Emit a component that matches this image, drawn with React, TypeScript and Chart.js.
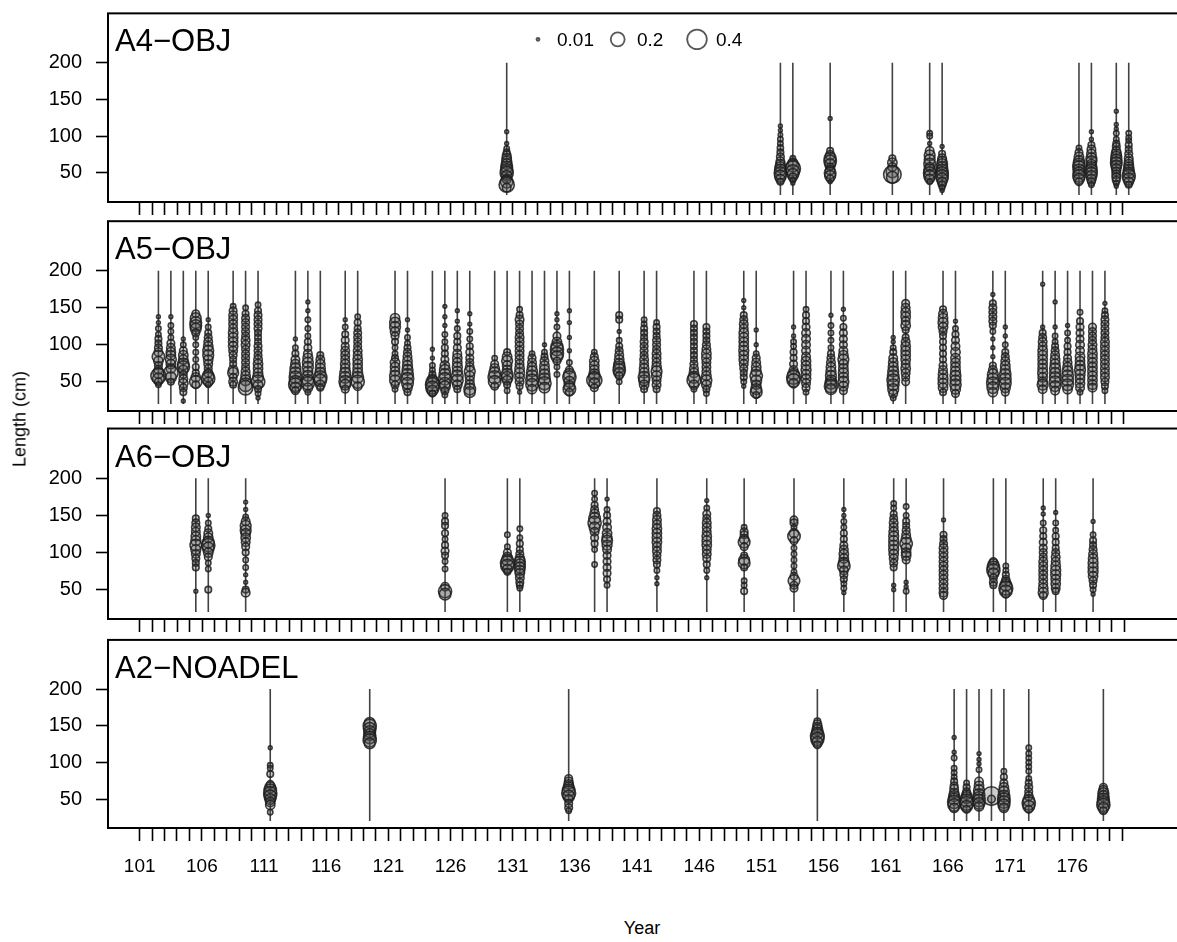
import React, { useEffect, useRef } from 'react';
import { Chart, registerables } from 'chart.js';
Chart.register(...registerables);

const FONT = '"Liberation Sans", Arial, Helvetica, sans-serif';

// ---- axis definitions ----
const FIRST_TICK_YEAR = 101;
const LAST_TICK_YEAR = 180;
const LABELED_YEARS = [101, 106, 111, 116, 121, 126, 131, 136, 141, 146, 151, 156, 161, 166, 171, 176];
const Y_TICKS = [50, 100, 150, 200];
const LINE_LOW = 20;
const LINE_HIGH = 200;
const LEGEND_PROPS = [0.01, 0.2, 0.4];
const LEGEND_LABELS = ['0.01', '0.2', '0.4'];

// ---- data: years and [length, proportion] compositions ----
const a4Years = [130, 152, 153, 156, 161, 164, 165, 176, 177, 179, 180];
const a4Comps = [
  [[106, .015], [90, .015], [83, .03], [78, .045], [74, .075], [70, .09], [66, .1], [62, .12], [58, .14], [54, .16], [50, .18], [46, .12], [42, .09], [38, .16], [34, .24], [30, .075]],
  [[114, .015], [108, .015], [102, .02], [96, .03], [90, .03], [84, .04], [78, .045], [72, .06], [66, .075], [62, .09], [58, .12], [54, .14], [50, .16], [46, .14], [42, .09], [38, .045]],
  [[70, .03], [64, .09], [60, .16], [56, .24], [52, .19], [48, .14], [44, .075], [40, .03], [36, .015]],
  [[124, .015], [80, .045], [74, .09], [70, .14], [66, .16], [62, .12], [58, .06], [54, .09], [50, .14], [46, .12], [42, .06], [38, .015]],
  [[70, .045], [64, .09], [58, .075], [52, .16], [48, .32], [44, .14]],
  [[104, .03], [100, .03], [90, .015], [80, .075], [74, .12], [68, .12], [62, .14], [58, .09], [54, .14], [50, .16], [46, .14], [42, .09], [38, .03]],
  [[86, .015], [76, .045], [70, .075], [66, .09], [62, .12], [58, .12], [54, .14], [50, .16], [46, .16], [42, .14], [38, .09], [34, .06], [30, .03], [26, .015]],
  [[84, .03], [78, .06], [72, .09], [66, .12], [62, .14], [58, .16], [54, .14], [50, .14], [46, .16], [42, .12], [38, .06]],
  [[106, .015], [96, .015], [88, .045], [82, .075], [76, .09], [70, .12], [66, .12], [62, .09], [58, .12], [54, .14], [50, .14], [46, .12], [42, .09], [38, .06], [34, .03]],
  [[134, .015], [116, .015], [110, .015], [104, .03], [96, .03], [90, .045], [86, .06], [80, .075], [76, .1], [72, .12], [68, .13], [64, .14], [60, .12], [56, .09], [52, .075], [48, .075], [44, .075], [40, .06], [36, .03], [32, .015]],
  [[104, .03], [98, .03], [94, .03], [88, .045], [82, .045], [76, .06], [70, .075], [66, .075], [62, .09], [58, .1], [54, .12], [50, .14], [46, .18], [42, .14], [38, .09], [34, .045]],
];

const a5Years = [102, 103, 104, 105, 106, 108, 109, 110, 113, 114, 115, 117, 118, 121, 122, 124, 125, 126, 127, 129, 130, 131, 132, 133, 134, 135, 137, 139, 141, 142, 145, 146, 149, 150, 153, 154, 156, 157, 161, 162, 165, 166, 169, 170, 173, 174, 175, 176, 177, 178];
const a5Comps = [
  [[138, .015], [130, .015], [122, .03], [114, .03], [108, .045], [102, .045], [96, .06], [90, .075], [84, .16], [78, .09], [72, .06], [66, .075], [62, .12], [58, .24], [54, .14], [50, .06], [46, .03]],
  [[138, .015], [126, .03], [118, .03], [110, .03], [102, .06], [96, .075], [90, .09], [86, .09], [80, .12], [74, .09], [68, .09], [62, .22], [56, .12], [50, .045]],
  [[108, .015], [100, .03], [92, .06], [86, .09], [80, .09], [74, .14], [70, .16], [66, .09], [60, .06], [54, .075], [48, .09], [42, .06], [36, .045], [24, .015]],
  [[142, .06], [136, .12], [130, .14], [126, .14], [122, .12], [116, .06], [110, .03], [100, .03], [90, .03], [80, .03], [70, .045], [62, .045], [56, .09], [50, .16], [46, .06]],
  [[134, .015], [124, .03], [116, .045], [110, .06], [104, .075], [98, .09], [92, .12], [86, .12], [80, .09], [74, .075], [68, .06], [62, .075], [58, .14], [54, .18], [50, .09], [46, .03]],
  [[152, .03], [146, .06], [140, .075], [134, .075], [128, .075], [122, .075], [116, .09], [110, .09], [104, .09], [98, .09], [92, .075], [86, .06], [80, .045], [74, .045], [66, .09], [62, .12], [56, .06], [50, .075], [46, .045]],
  [[150, .03], [142, .045], [136, .06], [130, .06], [124, .06], [118, .06], [112, .06], [106, .075], [100, .075], [94, .06], [88, .06], [82, .06], [76, .06], [70, .06], [64, .075], [58, .09], [52, .12], [46, .19], [42, .22]],
  [[154, .03], [146, .045], [140, .06], [134, .06], [128, .06], [122, .06], [116, .045], [110, .045], [104, .045], [98, .06], [92, .06], [86, .06], [80, .075], [74, .09], [68, .09], [62, .09], [56, .12], [50, .19], [46, .09], [40, .045], [34, .03], [28, .015]],
  [[108, .015], [96, .03], [88, .045], [80, .075], [74, .09], [68, .12], [62, .14], [56, .16], [50, .16], [46, .19], [42, .12], [38, .06]],
  [[158, .015], [146, .015], [134, .03], [122, .03], [112, .03], [104, .045], [96, .06], [88, .075], [82, .1], [76, .12], [70, .12], [64, .1], [58, .12], [52, .14], [48, .18], [42, .09], [36, .03]],
  [[86, .045], [80, .075], [74, .09], [68, .1], [62, .12], [56, .18], [52, .16], [46, .09], [42, .045]],
  [[134, .015], [124, .03], [114, .045], [106, .06], [98, .06], [92, .075], [86, .075], [80, .075], [74, .09], [68, .09], [62, .12], [56, .14], [50, .16], [46, .12], [40, .06]],
  [[138, .03], [130, .045], [122, .045], [116, .06], [110, .06], [104, .06], [98, .06], [92, .075], [86, .075], [80, .09], [74, .09], [68, .09], [62, .1], [56, .14], [50, .18], [44, .075]],
  [[136, .09], [130, .12], [124, .12], [118, .09], [112, .06], [104, .045], [96, .03], [88, .03], [82, .045], [76, .09], [70, .09], [64, .09], [58, .12], [52, .12], [46, .06], [40, .03]],
  [[134, .015], [120, .015], [110, .03], [102, .03], [96, .045], [90, .06], [84, .075], [78, .09], [72, .1], [66, .12], [60, .14], [54, .16], [48, .14], [42, .09], [36, .045]],
  [[94, .015], [82, .015], [72, .03], [66, .03], [60, .045], [54, .09], [50, .16], [46, .2], [42, .18], [38, .12], [34, .045]],
  [[152, .015], [138, .015], [126, .015], [114, .03], [104, .03], [96, .045], [88, .045], [80, .06], [72, .09], [66, .12], [60, .14], [54, .16], [48, .14], [44, .12], [38, .06], [32, .03]],
  [[146, .015], [132, .015], [122, .03], [112, .045], [104, .045], [96, .06], [88, .075], [82, .09], [76, .09], [70, .1], [64, .1], [58, .14], [52, .14], [46, .09], [40, .045]],
  [[142, .015], [128, .015], [118, .03], [108, .03], [98, .045], [90, .06], [82, .06], [76, .06], [70, .075], [64, .12], [58, .09], [52, .075], [46, .09], [40, .14], [36, .12]],
  [[82, .03], [74, .06], [68, .09], [62, .14], [56, .18], [50, .16], [44, .06]],
  [[90, .045], [84, .09], [78, .12], [72, .09], [66, .09], [60, .14], [56, .14], [52, .09], [46, .045], [38, .03]],
  [[148, .03], [140, .045], [134, .075], [128, .06], [122, .06], [116, .06], [110, .075], [104, .075], [98, .075], [92, .075], [86, .075], [80, .075], [74, .075], [68, .09], [62, .1], [56, .09], [50, .075], [44, .045], [36, .015]],
  [[88, .03], [82, .06], [76, .075], [70, .09], [64, .12], [58, .14], [52, .16], [46, .16], [40, .09]],
  [[100, .015], [90, .03], [84, .045], [78, .075], [72, .09], [66, .1], [60, .12], [54, .14], [48, .18], [42, .12]],
  [[142, .015], [134, .015], [124, .03], [112, .06], [104, .09], [98, .14], [94, .18], [88, .18], [84, .14], [78, .06], [70, .03], [60, .03]],
  [[146, .015], [130, .015], [110, .015], [92, .015], [76, .03], [66, .06], [60, .14], [56, .18], [50, .12], [44, .12], [40, .16], [36, .06]],
  [[90, .03], [84, .06], [78, .09], [72, .09], [66, .09], [60, .12], [56, .14], [52, .24], [48, .12], [42, .06]],
  [[140, .045], [134, .045], [118, .015], [106, .03], [98, .045], [92, .06], [86, .075], [80, .09], [74, .12], [70, .14], [66, .16], [62, .12], [58, .06], [50, .03]],
  [[134, .03], [128, .03], [122, .045], [116, .045], [110, .045], [104, .06], [98, .06], [92, .06], [86, .06], [80, .075], [74, .075], [68, .09], [62, .1], [56, .14], [52, .12], [46, .09], [40, .045]],
  [[130, .03], [124, .045], [118, .045], [112, .045], [106, .06], [100, .06], [94, .06], [88, .075], [82, .075], [76, .075], [70, .09], [64, .12], [58, .1], [52, .075], [46, .075], [40, .045]],
  [[128, .045], [122, .045], [116, .045], [110, .045], [104, .045], [98, .045], [92, .045], [86, .045], [80, .045], [74, .06], [68, .075], [62, .09], [56, .14], [52, .2], [46, .09], [40, .03]],
  [[124, .045], [118, .045], [112, .045], [106, .045], [100, .06], [94, .075], [88, .09], [82, .09], [76, .075], [70, .075], [64, .075], [58, .09], [52, .12], [46, .09], [40, .045], [34, .03]],
  [[160, .015], [150, .015], [140, .045], [134, .06], [128, .075], [122, .075], [116, .09], [110, .09], [104, .09], [98, .09], [92, .1], [86, .09], [80, .09], [74, .075], [68, .06], [62, .045], [56, .045], [50, .03], [44, .015]],
  [[120, .015], [100, .015], [88, .03], [82, .06], [76, .075], [70, .09], [64, .1], [58, .16], [52, .12], [46, .09], [40, .12], [36, .14], [32, .045]],
  [[124, .015], [112, .015], [104, .03], [98, .03], [90, .045], [82, .045], [74, .06], [66, .075], [60, .14], [56, .2], [52, .18], [48, .09]],
  [[148, .03], [140, .045], [132, .045], [124, .06], [116, .075], [108, .075], [100, .075], [92, .075], [84, .075], [78, .09], [72, .09], [66, .1], [60, .09], [54, .09], [48, .075], [42, .06], [36, .03]],
  [[140, .015], [126, .03], [116, .03], [106, .03], [96, .03], [88, .045], [82, .06], [76, .075], [70, .09], [64, .1], [58, .12], [52, .12], [48, .14], [44, .18], [40, .12]],
  [[148, .015], [136, .03], [124, .045], [116, .06], [108, .06], [100, .06], [92, .075], [86, .09], [80, .12], [74, .09], [68, .09], [62, .1], [56, .1], [50, .12], [44, .09], [38, .06]],
  [[110, .015], [104, .015], [96, .03], [90, .045], [82, .075], [76, .09], [70, .1], [64, .12], [58, .14], [52, .16], [46, .14], [40, .12], [34, .075], [28, .03]],
  [[156, .06], [150, .075], [144, .09], [138, .09], [132, .075], [126, .09], [120, .045], [110, .045], [104, .075], [98, .09], [92, .09], [86, .09], [80, .09], [74, .075], [68, .09], [62, .075], [56, .06], [50, .06]],
  [[148, .045], [142, .075], [136, .09], [130, .1], [124, .09], [118, .06], [112, .045], [104, .045], [96, .045], [88, .045], [80, .045], [72, .06], [66, .075], [60, .09], [54, .1], [48, .1], [42, .09], [36, .045]],
  [[132, .015], [122, .03], [114, .045], [106, .06], [98, .075], [90, .09], [82, .09], [76, .09], [70, .09], [64, .1], [58, .12], [52, .12], [46, .13], [40, .1], [34, .06]],
  [[168, .015], [156, .045], [150, .06], [144, .06], [138, .06], [132, .06], [126, .045], [118, .03], [108, .015], [96, .015], [84, .015], [72, .045], [66, .075], [60, .12], [54, .14], [48, .16], [42, .14], [36, .09]],
  [[124, .015], [112, .015], [100, .03], [90, .045], [84, .06], [78, .075], [72, .09], [66, .1], [60, .13], [54, .14], [48, .14], [42, .1], [36, .06]],
  [[182, .015], [124, .015], [116, .045], [110, .06], [104, .075], [98, .075], [92, .09], [86, .09], [80, .09], [74, .09], [68, .09], [62, .1], [56, .09], [50, .09], [46, .12], [40, .075]],
  [[158, .015], [124, .015], [112, .03], [104, .03], [98, .045], [92, .06], [86, .075], [80, .09], [74, .1], [68, .12], [62, .12], [56, .13], [50, .14], [44, .12], [38, .075]],
  [[126, .015], [116, .03], [106, .03], [98, .045], [90, .045], [82, .06], [76, .075], [70, .09], [64, .12], [58, .14], [52, .14], [46, .14], [40, .09]],
  [[144, .03], [132, .045], [124, .06], [116, .06], [108, .06], [100, .075], [92, .075], [84, .09], [78, .09], [72, .1], [66, .12], [60, .1], [54, .09], [48, .09], [42, .075], [36, .03]],
  [[124, .06], [118, .06], [112, .06], [106, .06], [100, .075], [94, .075], [88, .09], [82, .09], [76, .09], [70, .09], [64, .09], [58, .09], [52, .09], [46, .09], [42, .075]],
  [[156, .015], [146, .03], [140, .045], [134, .06], [128, .06], [122, .06], [116, .06], [110, .06], [104, .075], [98, .075], [92, .075], [86, .075], [80, .075], [74, .075], [68, .075], [62, .075], [56, .075], [50, .06], [44, .045], [38, .03]],
];

const a6Years = [105, 106, 109, 125, 130, 131, 137, 138, 142, 146, 149, 153, 157, 161, 162, 165, 169, 170, 173, 174, 177];
const a6Comps = [
  [[146, .045], [140, .06], [134, .075], [128, .075], [122, .09], [116, .1], [110, .14], [104, .1], [98, .075], [92, .06], [86, .045], [80, .045], [48, .015]],
  [[150, .015], [140, .03], [132, .045], [126, .075], [120, .09], [114, .14], [110, .18], [106, .14], [100, .09], [94, .06], [86, .03], [78, .03], [50, .045]],
  [[168, .015], [158, .015], [148, .03], [142, .075], [136, .12], [130, .12], [126, .09], [120, .09], [114, .075], [108, .06], [100, .045], [90, .03], [80, .03], [70, .015], [60, .015], [50, .045], [46, .075]],
  [[150, .03], [142, .045], [136, .045], [126, .045], [118, .03], [110, .045], [102, .06], [96, .045], [88, .03], [78, .03], [54, .075], [48, .18], [44, .14]],
  [[124, .03], [108, .03], [100, .06], [94, .09], [90, .14], [86, .2], [82, .18], [78, .09], [74, .045]],
  [[132, .03], [120, .03], [112, .045], [104, .045], [98, .06], [92, .09], [88, .12], [84, .12], [80, .12], [76, .1], [72, .09], [66, .075], [60, .06], [56, .045], [52, .03]],
  [[180, .03], [172, .03], [164, .045], [158, .06], [152, .09], [146, .14], [140, .18], [134, .12], [128, .075], [120, .06], [112, .045], [104, .03], [84, .03]],
  [[172, .015], [158, .03], [150, .045], [142, .06], [134, .075], [126, .09], [120, .1], [116, .12], [110, .1], [104, .075], [96, .06], [88, .06], [80, .06], [72, .06], [64, .045], [56, .03]],
  [[156, .045], [150, .06], [144, .075], [138, .075], [132, .09], [126, .09], [120, .09], [114, .09], [108, .075], [102, .075], [96, .06], [90, .06], [84, .045], [76, .03], [66, .015], [58, .015]],
  [[170, .015], [160, .03], [152, .06], [146, .06], [140, .075], [134, .075], [128, .075], [122, .09], [116, .09], [110, .09], [104, .075], [98, .075], [92, .06], [84, .045], [76, .03], [66, .015]],
  [[134, .03], [128, .06], [124, .06], [118, .09], [114, .14], [108, .06], [96, .045], [90, .12], [86, .14], [80, .045], [62, .03], [56, .03], [48, .045]],
  [[144, .06], [140, .06], [134, .03], [126, .09], [122, .16], [116, .06], [106, .03], [98, .03], [90, .03], [82, .03], [74, .03], [68, .06], [62, .14], [56, .06], [52, .06]],
  [[158, .015], [150, .015], [142, .03], [134, .03], [126, .045], [118, .045], [110, .06], [104, .075], [98, .09], [92, .09], [86, .12], [82, .16], [76, .075], [70, .06], [64, .045], [58, .03], [52, .03], [46, .015]],
  [[166, .03], [160, .03], [152, .045], [146, .06], [140, .075], [134, .075], [128, .09], [122, .1], [116, .1], [110, .1], [104, .1], [98, .09], [92, .075], [86, .06], [80, .045], [56, .015], [50, .015]],
  [[162, .03], [150, .03], [142, .045], [136, .045], [130, .06], [124, .075], [118, .1], [112, .16], [106, .1], [100, .09], [96, .09], [90, .06], [60, .015], [54, .015], [48, .03]],
  [[144, .015], [124, .045], [118, .045], [112, .06], [106, .075], [100, .075], [94, .075], [88, .075], [82, .075], [76, .075], [70, .075], [64, .075], [58, .075], [52, .075], [46, .075], [42, .06]],
  [[88, .06], [84, .12], [80, .16], [76, .18], [72, .12], [66, .06], [60, .06], [56, .045]],
  [[82, .03], [76, .03], [70, .045], [64, .06], [60, .09], [56, .14], [52, .2], [48, .16], [44, .06]],
  [[160, .015], [152, .015], [140, .03], [130, .045], [122, .045], [114, .06], [106, .06], [100, .06], [94, .06], [88, .075], [82, .075], [76, .075], [70, .075], [64, .075], [58, .075], [52, .09], [46, .1], [42, .06]],
  [[154, .015], [140, .03], [130, .03], [122, .045], [114, .045], [106, .045], [100, .06], [94, .075], [88, .075], [82, .09], [76, .1], [70, .1], [64, .09], [58, .09], [52, .075], [48, .045]],
  [[142, .015], [124, .03], [116, .045], [110, .045], [104, .06], [98, .075], [92, .09], [86, .1], [80, .1], [74, .1], [68, .09], [62, .06], [56, .045], [50, .03], [44, .015]],
];

const a2Years = [111, 119, 135, 155, 166, 167, 168, 169, 170, 172, 178];
const a2Comps = [
  [[120, .015], [96, .03], [92, .03], [84, .045], [70, .06], [66, .12], [62, .16], [58, .18], [54, .16], [50, .12], [46, .09], [42, .09], [32, .03]],
  [[154, .12], [150, .18], [146, .16], [142, .14], [138, .14], [134, .16], [130, .18], [126, .12]],
  [[78, .06], [74, .075], [70, .09], [66, .12], [62, .16], [58, .2], [54, .14], [50, .075], [44, .06], [38, .06], [34, .03]],
  [[156, .045], [152, .075], [148, .09], [144, .12], [140, .14], [136, .2], [132, .18], [128, .12], [124, .06]],
  [[134, .015], [114, .015], [106, .03], [92, .03], [86, .03], [80, .03], [74, .045], [68, .06], [64, .075], [58, .09], [54, .12], [50, .14], [46, .18], [42, .16], [38, .09]],
  [[72, .03], [66, .045], [60, .06], [56, .09], [52, .14], [48, .18], [44, .2], [40, .14], [36, .06]],
  [[112, .015], [104, .015], [98, .015], [90, .03], [74, .075], [68, .09], [62, .12], [56, .14], [52, .14], [48, .16], [44, .14], [40, .09]],
  [[54, .36], [50, .06]],
  [[88, .03], [80, .045], [72, .06], [66, .09], [60, .12], [54, .14], [50, .16], [46, .16], [42, .14], [38, .09]],
  [[120, .03], [112, .03], [106, .03], [100, .03], [94, .03], [88, .03], [78, .03], [72, .045], [66, .06], [60, .06], [54, .075], [48, .14], [44, .18], [40, .14], [36, .06]],
  [[66, .06], [62, .09], [58, .12], [54, .12], [50, .14], [46, .16], [42, .18], [38, .12], [34, .06]],
];

const PANELS = [
  { name: 'A4\u2212OBJ', years: a4Years, comps: a4Comps },
  { name: 'A5\u2212OBJ', years: a5Years, comps: a5Comps },
  { name: 'A6\u2212OBJ', years: a6Years, comps: a6Comps },
  { name: 'A2\u2212NOADEL', years: a2Years, comps: a2Comps },
];

// ---- layout ----
const CANVAS_W = 1200;
const PANEL_TOPS = [7, 216, 424, 633];
const PANEL_H = 195;
const PAD_TOP = 4;
const X_AXIS_H = [14, 14, 14, 70];
const PX_PER_YEAR = 12.56;
const FIRST_TICK_PX = 140;
const CHART_LEFT = 108;
const Y_MIN = 10.5;
const Y_MAX = 267.1;

const BUBBLE_BORDER = 'rgba(30,30,30,0.85)';
const BUBBLE_FILL = 'rgba(80,80,80,0.28)';
const LINE_COLOR = 'rgba(45,45,45,0.9)';

const radiusOf = (p: number) => 15.5 * Math.sqrt(p);

const firstTickValue = FIRST_TICK_YEAR - 0.5;
const X_MIN = firstTickValue - (FIRST_TICK_PX - CHART_LEFT) / PX_PER_YEAR;
const X_MAX = firstTickValue + (CANVAS_W - FIRST_TICK_PX) / PX_PER_YEAR;

function Panel({ idx }: { idx: number }) {
  const ref = useRef<HTMLCanvasElement>(null);
  const h = PAD_TOP + PANEL_H + X_AXIS_H[idx];
  useEffect(() => {
    const panel = PANELS[idx];
    const isLast = idx === PANELS.length - 1;
    const lineData: any[] = [];
    panel.years.forEach((yr) => {
      lineData.push({ x: yr, y: LINE_LOW }, { x: yr, y: LINE_HIGH }, { x: yr, y: null });
    });
    const bubbleData: any[] = [];
    panel.years.forEach((yr, i) => {
      panel.comps[i].forEach(([len, p]) => bubbleData.push({ x: yr, y: len, r: radiusOf(p) }));
    });
    const tickValues: number[] = [];
    for (let y = FIRST_TICK_YEAR; y <= LAST_TICK_YEAR; y++) tickValues.push(y - 0.5);

    const framePlugin = {
      id: 'frame' + idx,
      afterDraw(chart: any) {
        const { ctx, chartArea } = chart;
        const { left, top, right, bottom } = chartArea;
        ctx.save();
        ctx.strokeStyle = '#000';
        ctx.lineWidth = 2;
        ctx.strokeRect(left, top, right - left, bottom - top);
        ctx.fillStyle = '#000';
        ctx.font = `31px ${FONT}`;
        ctx.textBaseline = 'alphabetic';
        ctx.textAlign = 'left';
        ctx.fillText(panel.name, left + 7, top + 38);
        if (idx === 0) {
          const cy = top + 26;
          const circleX = [538, 617.7, 697];
          const textX = [557, 637, 716];
          LEGEND_PROPS.forEach((p, k) => {
            ctx.beginPath();
            ctx.arc(circleX[k], cy, radiusOf(p), 0, Math.PI * 2);
            ctx.fillStyle = k === 0 ? 'rgba(80,80,80,0.6)' : '#fff';
            ctx.fill();
            ctx.strokeStyle = 'rgba(70,70,70,0.9)';
            ctx.lineWidth = 1.8;
            ctx.stroke();
            ctx.fillStyle = '#000';
            ctx.font = `19px ${FONT}`;
            ctx.textBaseline = 'middle';
            ctx.fillText(LEGEND_LABELS[k], textX[k], cy + 1);
          });
        }
        ctx.restore();
      },
    };

    const chart = new Chart(ref.current as HTMLCanvasElement, {
      type: 'bubble',
      data: {
        datasets: [
          {
            type: 'line',
            data: lineData,
            borderColor: LINE_COLOR,
            borderWidth: 1.6,
            pointRadius: 0,
            spanGaps: false,
            fill: false,
            order: 2,
          } as any,
          {
            type: 'bubble',
            data: bubbleData,
            borderColor: BUBBLE_BORDER,
            backgroundColor: BUBBLE_FILL,
            borderWidth: 1.6,
            order: 1,
          } as any,
        ],
      },
      options: {
        responsive: false,
        animation: false,
        events: [],
        layout: { padding: { top: PAD_TOP, left: 0, right: 0, bottom: 0 } },
        plugins: { legend: { display: false }, tooltip: { enabled: false } },
        scales: {
          x: {
            type: 'linear',
            position: 'bottom',
            min: X_MIN,
            max: X_MAX,
            afterBuildTicks: (s: any) => {
              s.ticks = tickValues.map((v) => ({ value: v }));
            },
            afterFit: (s: any) => {
              s.height = X_AXIS_H[idx];
              s.paddingLeft = 0;
              s.paddingRight = 0;
              s.paddingTop = 0;
              s.paddingBottom = 0;
            },
            grid: { drawOnChartArea: false, drawTicks: true, tickLength: 13, tickWidth: 1.6, tickColor: '#000' },
            border: { display: false },
            ticks: {
              display: isLast,
              autoSkip: false,
              maxRotation: 0,
              minRotation: 0,
              padding: 14,
              color: '#000',
              font: { size: 19, family: FONT },
              callback: (v: any) => {
                const yr = Math.round(Number(v) + 0.5);
                return LABELED_YEARS.includes(yr) ? String(yr) : '';
              },
            },
          },
          y: {
            type: 'linear',
            min: Y_MIN,
            max: Y_MAX,
            afterBuildTicks: (s: any) => {
              s.ticks = Y_TICKS.map((v) => ({ value: v }));
            },
            afterFit: (s: any) => {
              s.width = CHART_LEFT;
              s.paddingTop = 0;
              s.paddingBottom = 0;
              s.paddingLeft = 0;
              s.paddingRight = 0;
            },
            grid: { drawOnChartArea: false, drawTicks: true, tickLength: 12, tickWidth: 1.6, tickColor: '#000' },
            border: { display: false },
            ticks: {
              padding: 14,
              color: '#000',
              font: { size: 20, family: FONT },
              callback: (v: any) => String(v),
            },
          },
        },
      } as any,
      plugins: [framePlugin],
    });
    return () => chart.destroy();
  }, [idx]);
  return (
    <canvas
      ref={ref}
      width={CANVAS_W}
      height={h}
      style={{ position: 'absolute', left: 0, top: PANEL_TOPS[idx] - PAD_TOP, width: CANVAS_W, height: h }}
    />
  );
}

export default function App() {
  return (
    <div
      style={{
        position: 'absolute',
        left: 0,
        top: 0,
        width: 1177,
        height: 942,
        overflow: 'hidden',
        background: '#fff',
        fontFamily: FONT,
      }}
    >
      {PANELS.map((_, i) => (
        <Panel key={i} idx={i} />
      ))}
      <div
        style={{
          position: 'absolute',
          left: 20,
          top: 419,
          transform: 'translate(-50%, -50%) rotate(-90deg)',
          fontSize: 18,
          whiteSpace: 'nowrap',
          color: '#000',
        }}
      >
        Length (cm)
      </div>
      <div
        style={{
          position: 'absolute',
          left: 642,
          top: 928,
          transform: 'translate(-50%, -50%)',
          fontSize: 18,
          whiteSpace: 'nowrap',
          color: '#000',
        }}
      >
        Year
      </div>
    </div>
  );
}
